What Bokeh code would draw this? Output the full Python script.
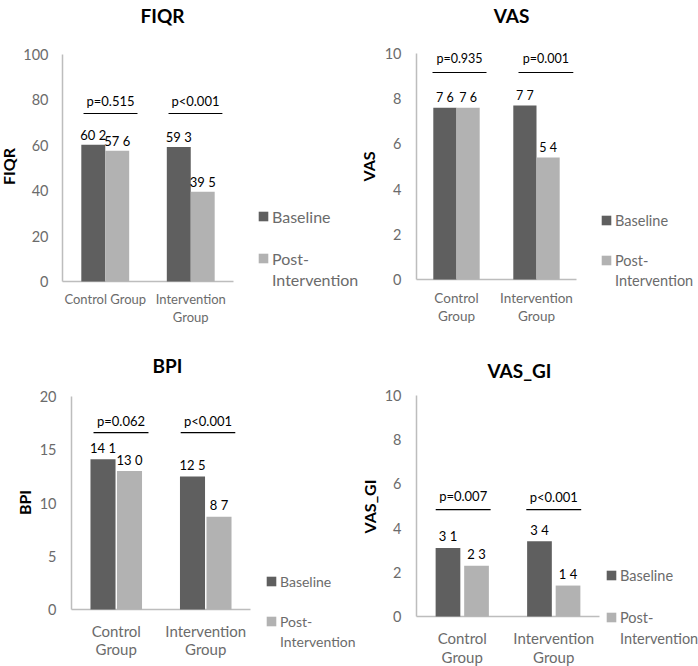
import math
from bokeh.plotting import figure
from bokeh.models import Range1d, Legend, LegendItem, Label
from bokeh.layouts import column, row
from bokeh.core.properties import value
from bokeh.embed import file_html
from bokeh.resources import INLINE

# ---------------- data ----------------
categories = ["Control Group", "Intervention Group"]
series_names = ["Baseline", "Post-Intervention"]

fiqr_baseline = [60.2, 59.3]
fiqr_post = [57.6, 39.5]
fiqr_base_labels = ["60 2", "59 3"]
fiqr_post_labels = ["57 6", "39 5"]
fiqr_pvalues = ["p=0.515", "p<0.001"]
fiqr_yticks = [0, 20, 40, 60, 80, 100]
fiqr_xlabel_line1 = ["Control Group", "Intervention"]
fiqr_xlabel_line2 = ["", "Group"]

vas_baseline = [7.6, 7.7]
vas_post = [7.6, 5.4]
vas_base_labels = ["7 6", "7 7"]
vas_post_labels = ["7 6", "5 4"]
vas_pvalues = ["p=0.935", "p=0.001"]
vas_yticks = [0, 2, 4, 6, 8, 10]
vas_xlabel_line1 = ["Control", "Intervention"]
vas_xlabel_line2 = ["Group", "Group"]

bpi_baseline = [14.1, 12.5]
bpi_post = [13.0, 8.7]
bpi_base_labels = ["14 1", "12 5"]
bpi_post_labels = ["13 0", "8 7"]
bpi_pvalues = ["p=0.062", "p<0.001"]
bpi_yticks = [0, 5, 10, 15, 20]
bpi_xlabel_line1 = ["Control", "Intervention"]
bpi_xlabel_line2 = ["Group", "Group"]

vasgi_baseline = [3.1, 3.4]
vasgi_post = [2.3, 1.4]
vasgi_base_labels = ["3 1", "3 4"]
vasgi_post_labels = ["2 3", "1 4"]
vasgi_pvalues = ["p=0.007", "p<0.001"]
vasgi_yticks = [0, 2, 4, 6, 8, 10]
vasgi_xlabel_line1 = ["Control", "Intervention"]
vasgi_xlabel_line2 = ["Group", "Group"]

# ---------------- style ----------------
FONT = "Lato"
DARK = "#5f5f5f"
LIGHT = "#b2b2b2"
AXIS = "#bdbdbd"
TICK = "#6b6b6b"
H = 333


def panel(title, ylabel, base, post, base_lab, post_lab, pvals, yticks, xl1, xl2, cfg):
    W = cfg["W"]
    ax_x, cw, y_top, y_zero = cfg["geom"]
    n = len(categories)
    ymax = yticks[-1]
    ppu = (y_zero - y_top) / ymax
    centers = [i + 0.5 for i in range(n)]
    p = figure(width=W, height=H,
               x_range=Range1d(-ax_x / cw, (W - ax_x) / cw),
               y_range=Range1d(-(H - y_zero) / ppu, ymax + y_top / ppu),
               x_axis_location=None, y_axis_location=None,
               min_border_left=0, min_border_right=0, min_border_top=0,
               min_border_bottom=0,
               output_backend="svg", toolbar_location=None)
    p.outline_line_color = None
    p.xgrid.visible = False
    p.ygrid.visible = False
    p.background_fill_color = "white"
    p.border_fill_color = "white"

    # axis lines
    p.segment(x0=[0, 0], y0=[0, 0], x1=[n, 0], y1=[0, ymax], line_color=AXIS,
              line_width=1.5)
    # y tick labels
    p.text(x=[0] * len(yticks), y=yticks, text=[str(t) for t in yticks],
           x_offset=-cfg["ystand"], text_align="right", text_baseline="middle",
           text_font=value(FONT), text_font_size="14.5px", text_color=TICK)
    # category labels
    o1, o2, xfs = cfg["xlab"]
    p.text(x=centers, y=[0] * n, text=xl1, y_offset=o1, text_align="center",
           text_baseline="middle", text_font=value(FONT), text_font_size=xfs,
           text_color=TICK)
    p.text(x=centers, y=[0] * n, text=xl2, y_offset=o2, text_align="center",
           text_baseline="middle", text_font=value(FONT), text_font_size=xfs,
           text_color=TICK)

    # bars
    off, bw = cfg["bar"]
    xb = [c - off for c in centers]
    xp = [c + off for c in centers]
    r1 = p.vbar(x=xb, top=base, width=bw, fill_color=DARK, line_color=None)
    r2 = p.vbar(x=xp, top=post, width=bw, fill_color=LIGHT, line_color=None)
    g = cfg["lab_gap"]
    vfs = cfg["val_fs"]
    for xs, ys, ts in ((xb, base, base_lab), (xp, post, post_lab)):
        p.text(x=xs, y=ys, text=ts, text_align="center", text_baseline="middle",
               y_offset=-g, text_font=value(FONT), text_font_size=vfs, text_color="black")

    # p-value brackets
    for c, pv, (a, b, ly, ty) in zip(centers, pvals, cfg["plines"]):
        p.segment(x0=[c + a], x1=[c + b], y0=[ly], y1=[ly], line_color="black",
                  line_width=1.2)
        p.text(x=[c + (a + b) / 2], y=[ty], text=[pv], text_align="center",
               text_baseline="middle", text_font=value(FONT), text_font_size=vfs,
               text_color="black")

    # title and y-axis title (screen units, frame == whole canvas)
    tx, ty = cfg["title"]
    p.add_layout(Label(x=tx, y=H - ty, x_units="screen", y_units="screen", text=title,
                       text_align="center", text_baseline="middle", text_font=FONT,
                       text_font_style="bold", text_font_size="19px",
                       text_color="black"))
    yx, yy = cfg["ytitle"]
    p.add_layout(Label(x=yx, y=H - yy, x_units="screen", y_units="screen", text=ylabel,
                       angle=math.pi / 2, text_align="center",
                       text_baseline="alphabetic", text_font=FONT,
                       text_font_style="bold", text_font_size="16px",
                       text_color="black"))

    # legend
    blank = p.vbar(x=[], top=[], width=0.1, fill_alpha=0, line_alpha=0)
    gx, vy, sp, lfs = cfg["legend"]
    lg = Legend(items=[LegendItem(label=series_names[0], renderers=[r1]),
                       LegendItem(label=" ", renderers=[blank]),
                       LegendItem(label="Post-", renderers=[r2]),
                       LegendItem(label="Intervention", renderers=[blank])],
                location=(gx, vy), glyph_width=12, glyph_height=12, label_height=20,
                label_standoff=3, spacing=sp, padding=0, margin=0,
                border_line_color=None, background_fill_alpha=0,
                label_text_font=FONT, label_text_font_size=lfs,
                label_text_color=TICK)
    p.add_layout(lg, "center")
    return p


p1 = panel("FIQR", "FIQR", fiqr_baseline, fiqr_post, fiqr_base_labels, fiqr_post_labels,
           fiqr_pvalues, fiqr_yticks, fiqr_xlabel_line1, fiqr_xlabel_line2,
           dict(W=358, geom=(62, 85.5, 54, 281), ystand=14, xlab=(17, 35, "13px"),
                bar=(0.14, 0.28), lab_gap=9.5, val_fs="13px",
                plines=[(-0.254, 0.377, 74, 79.7), (-0.26, 0.37, 74, 79.7)],
                title=(162, 15), ytitle=(7.5, 166),
                legend=(257, 44, 1, "16px")))

p2 = panel("VAS", "VAS", vas_baseline, vas_post, vas_base_labels, vas_post_labels,
           vas_pvalues, vas_yticks, vas_xlabel_line1, vas_xlabel_line2,
           dict(W=340, geom=(58, 80, 53, 279), ystand=15, xlab=(18, 36, "13.5px"),
                bar=(0.145, 0.29), lab_gap=10, val_fs="12.5px",
                plines=[(-0.3, 0.375, 9.16, 9.78), (-0.225, 0.46, 9.16, 9.78)],
                title=(153, 15), ytitle=(10, 166),
                legend=(242, 43, 0, "14.5px")))

p3 = panel("BPI", "BPI", bpi_baseline, bpi_post, bpi_base_labels, bpi_post_labels,
           bpi_pvalues, bpi_yticks, bpi_xlabel_line1, bpi_xlabel_line2,
           dict(W=358, geom=(71, 89.5, 63, 276), ystand=15, xlab=(21, 39, "15px"),
                bar=(0.148, 0.28), lab_gap=11.5, val_fs="13px",
                plines=[(-0.254, 0.36, 16.6, 17.7), (-0.28, 0.33, 16.6, 17.7)],
                title=(167, 32), ytitle=(24, 169),
                legend=(265, 15, 0, "14px")))

p4 = panel("VAS_GI", "VAS_GI", vasgi_baseline, vasgi_post, vasgi_base_labels,
           vasgi_post_labels, vasgi_pvalues, vasgi_yticks, vasgi_xlabel_line1,
           vasgi_xlabel_line2,
           dict(W=340, geom=(58, 91.5, 62, 283), ystand=15, xlab=(21, 40, "15px"),
                bar=(0.156, 0.27), lab_gap=11.5, val_fs="13px",
                plines=[(-0.29, 0.31, 4.84, 5.47), (-0.3, 0.3, 4.84, 5.4)],
                title=(161, 37), ytitle=(10.5, 173),
                legend=(247, 18, 1, "14.5px")))

layout = column(row(p1, p2), row(p3, p4))
open("out.html", "w").write(file_html(layout, INLINE))
